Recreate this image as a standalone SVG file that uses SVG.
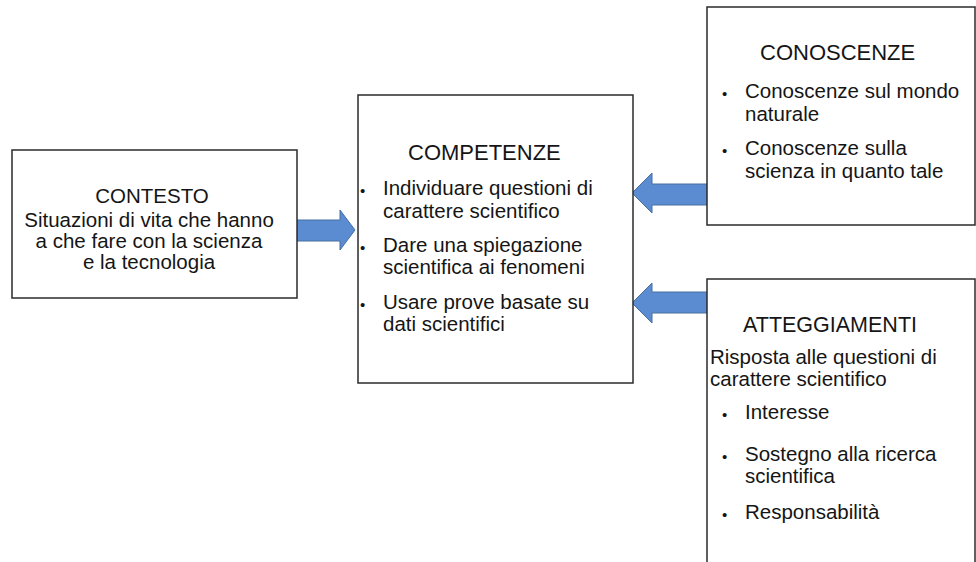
<svg xmlns="http://www.w3.org/2000/svg" width="976" height="562" viewBox="0 0 976 562">
  <style>
    .box { fill: #ffffff; stroke: #2b2b2b; stroke-width: 1.5; }
    .arrow { fill: #5b8bd0; stroke: #46709f; stroke-width: 1; }
    text { font-family: "Liberation Sans", Arial, sans-serif; fill: #151515; }
    .title { font-size: 21.5px; }
    .body { font-size: 20.5px; }
    .bul { font-size: 15px; }
    .mid { text-anchor: middle; }
  </style>
  <rect x="0" y="0" width="976" height="562" fill="#ffffff"/>

  <g id="connectors">
    <polygon class="arrow" points="297,220 340,220 340,210 355,230 340,250 340,241 297,241"/>
    <polygon class="arrow" points="708,184 652,184 652,173 632,193 652,213 652,205 708,205"/>
    <polygon class="arrow" points="708,292 652,292 652,283 632,303 652,323 652,313 708,313"/>
  </g>

  <g id="contesto">
    <rect class="box" x="12" y="150" width="285" height="148"/>
    <text class="title mid" x="152" y="203" style="font-size:20.5px">CONTESTO</text>
    <text class="body mid" x="149" y="227">Situazioni di vita che hanno</text>
    <text class="body mid" x="149" y="248">a che fare con la scienza</text>
    <text class="body mid" x="149" y="269">e la tecnologia</text>
  </g>

  <g id="competenze">
    <rect class="box" x="358" y="95" width="275" height="288"/>
    <text class="title" x="408" y="160" style="font-size:22px">COMPETENZE</text>
    <text class="bul" x="360" y="196">•</text>
    <text class="body" x="383" y="195">Individuare questioni di</text>
    <text class="body" x="383" y="218">carattere  scientifico</text>
    <text class="bul" x="360" y="253">•</text>
    <text class="body" x="383" y="252">Dare una spiegazione</text>
    <text class="body" x="383" y="274">scientifica ai fenomeni</text>
    <text class="bul" x="360" y="310">•</text>
    <text class="body" x="383" y="309">Usare prove basate su</text>
    <text class="body" x="383" y="331">dati scientifici</text>
  </g>

  <g id="conoscenze">
    <rect class="box" x="707" y="7" width="268" height="218"/>
    <text class="title" x="760" y="60" style="font-size:22px">CONOSCENZE</text>
    <text class="bul" x="722" y="99">•</text>
    <text class="body" x="745" y="98">Conoscenze sul mondo</text>
    <text class="body" x="745" y="121">naturale</text>
    <text class="bul" x="722" y="156">•</text>
    <text class="body" x="745" y="155">Conoscenze sulla</text>
    <text class="body" x="745" y="178">scienza in quanto tale</text>
  </g>

  <g id="atteggiamenti">
    <rect class="box" x="707" y="279" width="268" height="320"/>
    <text class="title" x="743" y="332">ATTEGGIAMENTI</text>
    <text class="body" x="710" y="364">Risposta alle questioni di</text>
    <text class="body" x="710" y="386">carattere  scientifico</text>
    <text class="bul" x="722" y="420">•</text>
    <text class="body" x="745" y="419">Interesse</text>
    <text class="bul" x="722" y="462">•</text>
    <text class="body" x="745" y="461">Sostegno alla ricerca</text>
    <text class="body" x="745" y="483">scientifica</text>
    <text class="bul" x="722" y="520">•</text>
    <text class="body" x="745" y="519">Responsabilità</text>
  </g>
</svg>
